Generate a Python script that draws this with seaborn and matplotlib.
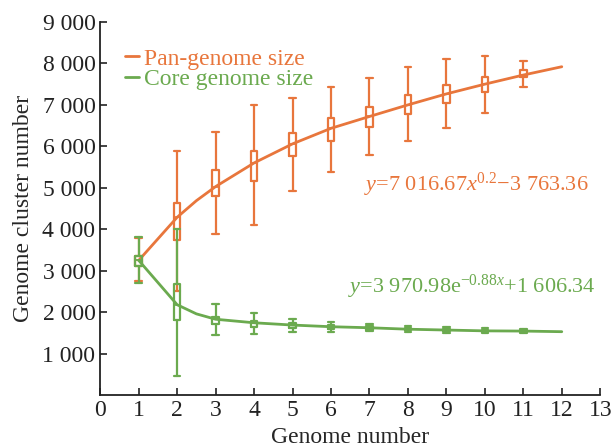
import numpy as np
import matplotlib
matplotlib.use("Agg")
import matplotlib.pyplot as plt
import seaborn as sns
import pandas as pd

# genome counts with a box (1..11) and the fitted curve readings (1..12)
box_x = [1, 2, 3, 4, 5, 6, 7, 8, 9, 10, 11]

pan_lo = [2750, 2500, 3890, 4100, 4920, 5375, 5790, 6130, 6450, 6810, 7440]
pan_q1 = [3120, 3750, 4800, 5170, 5775, 6135, 6475, 6780, 7055, 7305, 7665]
pan_med = [3250, 4290, 5030, 5600, 6060, 6435, 6720, 7000, 7265, 7500, 7720]
pan_q3 = [3350, 4630, 5430, 5895, 6320, 6675, 6940, 7240, 7480, 7665, 7840]
pan_hi = [3800, 5895, 6355, 7000, 7160, 7440, 7660, 7920, 8110, 8180, 8060]

core_lo = [2700, 465, 1450, 1470, 1530, 1530, 1545, 1530, 1510, 1505, 1510]
core_q1 = [3110, 1810, 1705, 1650, 1610, 1590, 1580, 1560, 1545, 1530, 1530]
core_med = [3250, 2180, 1830, 1745, 1690, 1650, 1625, 1590, 1570, 1550, 1545]
core_q3 = [3350, 2680, 1890, 1790, 1730, 1700, 1670, 1620, 1595, 1570, 1560]
core_hi = [3820, 4000, 2195, 1970, 1825, 1770, 1705, 1665, 1650, 1630, 1590]

curve_x = [1, 2, 2.5, 3, 4, 5, 6, 7, 8, 9, 10, 11, 12]
pan_curve = [3250, 4290, 4690, 5030, 5600, 6060, 6435, 6720, 7000, 7265, 7500, 7720, 7920]
core_curve = [3250, 2180, 1960, 1830, 1745, 1690, 1650, 1625, 1590, 1570, 1550, 1545, 1530]

pan_eq = "$y$=7 016.67$x^{0.2}$\u22123 763.36"
core_eq = "$y$=3 970.98e$^{\u22120.88x}$+1 606.34"

orange = "#E8763C"
green = "#6BAA4F"

sns.set_style("ticks")
plt.rcParams["font.family"] = ["Liberation Serif", "DejaVu Serif"]
plt.rcParams["mathtext.fontset"] = "custom"
plt.rcParams["mathtext.rm"] = "Liberation Serif"
plt.rcParams["mathtext.it"] = "Liberation Serif:italic"

fig = plt.figure(figsize=(6.15, 4.48), dpi=100)
ax = fig.add_axes([0.163, 0.118, 0.813, 0.833])

df = pd.DataFrame({"x": curve_x * 2,
                   "y": pan_curve + core_curve,
                   "s": ["Pan-genome size"] * len(curve_x) + ["Core genome size"] * len(curve_x)})
sns.lineplot(data=df, x="x", y="y", hue="s", palette=[orange, green], lw=2, ax=ax, zorder=3)


def draw_boxes(lo, q1, med, q3, hi, col, z):
    stats = []
    for i in range(len(box_x)):
        stats.append({"whislo": lo[i], "q1": q1[i], "med": med[i], "q3": q3[i], "whishi": hi[i]})
    ax.bxp(stats, positions=box_x, widths=0.17, capwidths=0.17, showfliers=False,
           manage_ticks=False, zorder=z,
           boxprops=dict(color=col, lw=1.6),
           whiskerprops=dict(color=col, lw=1.6),
           capprops=dict(color=col, lw=1.6),
           medianprops=dict(color=col, lw=1.2))


draw_boxes(pan_lo, pan_q1, pan_med, pan_q3, pan_hi, orange, 2)
draw_boxes(core_lo, core_q1, core_med, core_q3, core_hi, green, 4)

ax.text(6.85, 5070, pan_eq, color=orange, fontsize=16, va="center")
ax.text(6.45, 2600, core_eq, color=green, fontsize=16, va="center")

ax.set_xlim(0, 13)
ax.set_ylim(0, 9000)
ax.set_xticks(range(0, 14))
ax.set_yticks(range(1000, 10000, 1000))
ax.set_yticklabels([f"{v:,}".replace(",", " ") for v in range(1000, 10000, 1000)])
ax.tick_params(direction="in", length=5, width=1.2, labelsize=17, colors="#222222")
ax.set_xlabel("Genome number", fontsize=17, labelpad=4)
ax.set_ylabel("Genome cluster number", fontsize=17, labelpad=6)
for s in ["left", "bottom"]:
    ax.spines[s].set_linewidth(1.3)
    ax.spines[s].set_color("#222222")
sns.despine(ax=ax)

leg = ax.legend(loc="upper left", bbox_to_anchor=(0.03, 0.955), frameon=False, fontsize=17,
                handlelength=0.6, handletextpad=0.2, labelspacing=-0.05, borderaxespad=0)
for t, c in zip(leg.get_texts(), [orange, green]):
    t.set_color(c)

fig.savefig("out.png", dpi=100)
